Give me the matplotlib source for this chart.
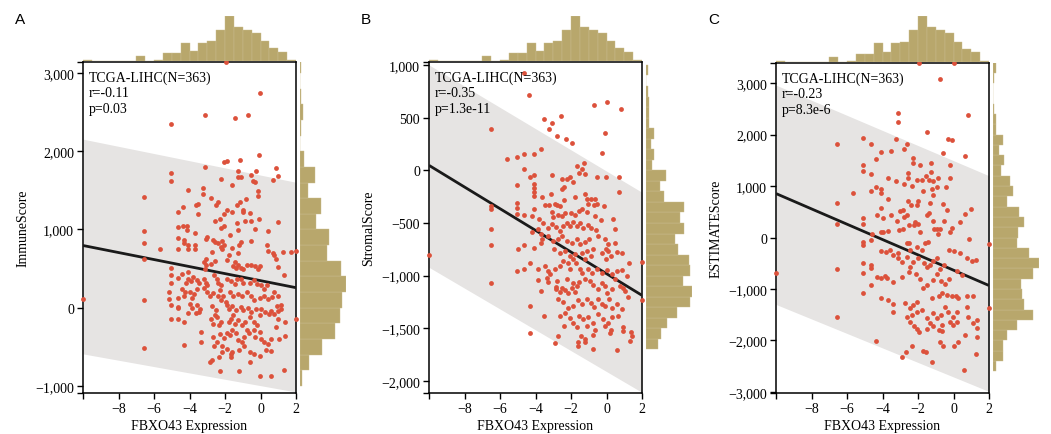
import numpy as np
import matplotlib
matplotlib.use("Agg")
import matplotlib.pyplot as plt
from matplotlib.ticker import FuncFormatter, FixedLocator

# ---- scatter data: (FBXO43 expression, score) ----
immune_pts = np.array([
    (-10.0, 112), (-6.59, 1419), (-6.59, 978), (-6.59, 829), (-6.59, 628), (-6.59, 103), (-6.59, -509),
    (-1.94, 3136), (-0.02, 2743), (-3.11, 2465), (-1.45, 2423), (-0.72, 2465), (-5.07, 2350),
    (-2.05, 1859), (-1.9, 1876), (-1.15, 1893), (-0.06, 1948), (-3.11, 1794), (-5.07, 1717), (-5.07, 1624),
    (-1.26, 1752), (-1.26, 1666), (-1.11, 1666), (-0.26, 1752), (0.87, 1790), (1.0, 1688),
    (-0.55, 1696), (-0.45, 1624), (-0.32, 1611), (0.68, 1632), (-2.24, 1641), (-1.6, 1568), (-3.22, 1534),
    (-4.09, 1504), (-0.13, 1491), (-0.13, 1427), (-3.22, 1448), (-2.79, 1406), (-0.79, 1384),
    (-1.15, 1346), (-1.3, 1312), (-2.4, 1354), (-2.53, 1312), (-3.66, 1312), (-3.51, 1324), (-4.36, 1282),
    (-1.87, 1247), (-1.58, 1226), (-1.0, 1247), (-1.0, 1218), (-4.66, 1222), (-3.51, 1200), (-2.06, 1200),
    (-0.58, 1205), (-2.28, 1140), (-0.09, 1128), (-2.58, 1106), (-1.34, 1085), (-0.51, 1106), (0.96, 1089),
    (-0.89, 1106), (-4.36, 1042), (-4.13, 1042), (-4.13, 999), (-4.66, 1034), (-2.06, 1042), (-2.24, 1021),
    (-1.24, 991), (-0.32, 1012), (-3.68, 961), (0.44, 982), (-1.72, 935), (-3.0, 905), (-3.09, 884),
    (-4.66, 888), (-4.32, 862), (-4.32, 833), (-2.7, 862), (-2.56, 841), (-2.4, 828), (-2.19, 850),
    (-2.06, 799), (-2.24, 777), (-2.15, 747), (-1.11, 841), (-1.19, 807), (-0.55, 850), (0.34, 807),
    (-4.09, 807), (-4.09, 756), (-3.7, 807), (-3.7, 756), (-4.66, 747), (-2.72, 713), (-1.62, 769),
    (-1.77, 670), (-1.26, 705), (0.44, 722), (0.68, 705), (0.77, 670), (0.87, 619), (1.25, 713),
    (1.72, 713), (2.0, 722), (-5.64, 747), (-3.06, 628), (-3.19, 585), (-3.06, 551), (-3.13, 499),
    (-2.58, 598), (-2.81, 555), (-1.87, 606), (-1.45, 585), (-1.53, 534), (-1.4, 508), (-1.26, 542),
    (-1.11, 508), (-1.0, 491), (-0.77, 551), (-0.55, 551), (-0.32, 534), (-0.02, 534), (-0.13, 491),
    (1.0, 521), (-5.07, 508), (-4.41, 436), (-4.66, 380), (-5.07, 414), (-5.07, 320), (-4.09, 457),
    (-4.09, 371), (-3.79, 393), (-3.9, 337), (-4.17, 320), (-3.6, 350), (-3.47, 320), (-3.19, 371),
    (-3.09, 320), (-3.0, 286), (-2.62, 414), (-2.47, 371), (-2.4, 320), (-2.24, 286), (-1.87, 371),
    (-1.68, 337), (-1.45, 307), (-1.34, 371), (-1.11, 371), (-0.96, 320), (-0.58, 320), (-0.36, 350),
    (-0.17, 303), (0.02, 286), (0.21, 243), (0.36, 286), (1.34, 423), (-5.17, 200), (-5.17, 115),
    (-5.07, 30), (-4.66, 123), (-4.66, 8), (-4.32, 149), (-4.23, 200), (-4.41, 243), (-3.98, 200),
    (-3.75, 179), (-3.85, 123), (-3.6, 243), (-3.19, 252), (-3.0, 200), (-2.85, 149), (-2.66, 192),
    (-2.28, 222), (-2.4, 149), (-2.09, 149), (-2.24, 93), (-1.96, 72), (-1.72, 200), (-1.53, 149),
    (-1.26, 179), (-1.02, 149), (-0.77, 200), (-0.55, 149), (-0.36, 93), (-0.02, 123), (0.21, 149),
    (0.4, 115), (0.62, 136), (0.77, 200), (0.96, 149), (1.15, 38), (0.93, 21), (-3.98, 51), (-3.85, -5),
    (-3.56, 30), (-3.41, -22), (-2.72, 21), (-2.53, -35), (-2.58, -90), (-1.9, 30), (-1.77, -22),
    (-1.58, 21), (-1.4, -35), (-1.53, -90), (-1.11, 8), (-0.96, -35), (-0.7, -5), (-0.55, -56),
    (-0.26, -22), (0.02, -22), (0.25, -56), (0.49, -78), (0.59, -48), (-5.07, -142), (-4.66, -5),
    (-4.66, -142), (-4.09, -65), (-3.66, -65), (-3.47, -56), (-4.32, -184), (-2.81, -142), (-2.66, -206),
    (-2.47, -120), (-2.34, -227), (-2.24, -184), (-1.77, -184), (-1.64, -142), (-1.45, -206),
    (-1.26, -163), (-1.07, -227), (-0.89, -184), (-0.58, -120), (-0.36, -184), (-0.21, -227),
    (-0.02, -90), (0.77, -78), (0.96, -48), (1.15, -14), (1.38, -184), (1.0, -150), (-3.38, -313),
    (-3.34, -441), (-4.32, -475), (-2.66, -377), (-2.47, -432), (-2.62, -492), (-2.28, -334),
    (-2.06, -390), (-1.9, -321), (-1.72, -355), (-1.58, -291), (-1.4, -321), (-1.26, -419),
    (-1.02, -441), (-0.92, -377), (-0.77, -291), (-0.64, -321), (-0.36, -279), (-0.32, -377),
    (-0.02, -313), (0.02, -398), (0.21, -441), (0.4, -462), (0.59, -398), (0.87, -249), (1.06, -398),
    (1.38, -364), (-2.15, -484), (-1.87, -527), (-1.58, -561), (-1.21, -535), (-0.92, -492),
    (-0.58, -561), (-0.36, -591), (-0.02, -621), (0.3, -535), (0.59, -548), (-2.85, -697), (-2.72, -668),
    (-2.34, -633), (-2.15, -569), (-1.64, -591), (-1.64, -633), (-0.58, -689), (-2.28, -804),
    (-1.21, -804), (-0.02, -877), (0.59, -877), (1.34, -792), (2.0, -150),
])

stromal_pts = np.array([
    (-10.0, -804), (-6.52, 389), (-6.52, -339), (-6.52, -364), (-6.52, -560), (-6.52, -712), (-6.52, -1067),
    (-4.67, 921), (-4.35, 712), (-3.5, 484), (-3.09, 446), (-3.22, 395), (-2.58, 516), (-2.77, 326),
    (-2.28, 301), (-1.93, 263), (-0.72, 617), (0.0, 652), (0.83, 579), (-0.08, 357), (-0.27, 168),
    (-5.63, 111), (-5.04, 123), (-4.63, 152), (-4.07, 152), (-3.69, 199), (-4.63, 16), (-5.04, -136),
    (-4.33, -67), (-4.07, -48), (-4.07, -133), (-4.07, -165), (-4.07, -206), (-4.07, -244), (-3.09, -48),
    (-1.68, 41), (-1.29, 66), (-1.55, -23), (-1.21, -38), (-1.4, 9), (-0.56, -60), (-0.01, -60),
    (0.68, -60), (0.68, -206), (-2.49, -79), (-2.25, -86), (-2.06, -60), (-1.87, -111), (-2.53, -174),
    (-2.4, -155), (-3.65, -253), (-3.13, -228), (-2.38, -282), (-2.81, -333), (-1.78, -253),
    (-1.21, -228), (-1.12, -276), (-0.88, -269), (-0.65, -276), (-1.06, -323), (-0.69, -333),
    (-0.56, -323), (-0.12, -339), (-5.04, -314), (-5.04, -355), (-5.04, -418), (-4.63, -428),
    (-4.22, -434), (-4.07, -371), (-3.47, -333), (-3.22, -333), (-2.9, -323), (-2.62, -339),
    (-3.09, -396), (-3.0, -440), (-2.75, -428), (-2.53, -434), (-2.34, -409), (-2.0, -409),
    (-1.78, -428), (-1.55, -387), (-1.36, -364), (-1.12, -396), (-0.65, -434), (-0.31, -472),
    (0.38, -466), (0.48, -554), (-3.79, -459), (-3.56, -504), (-3.32, -545), (-3.09, -513),
    (-2.87, -535), (-2.62, -576), (-2.43, -529), (-2.25, -504), (-2.06, -529), (-1.87, -491),
    (-1.68, -529), (-1.5, -497), (-1.31, -545), (-1.06, -523), (-0.88, -545), (-0.61, -567),
    (-3.84, -561), (-3.69, -608), (-3.65, -656), (-3.69, -687), (-4.22, -586), (-5.01, -744),
    (-4.63, -713), (-4.07, -735), (-3.28, -624), (-3.0, -672), (-2.72, -656), (-2.49, -624),
    (-2.25, -672), (-1.96, -687), (-1.68, -656), (-1.5, -703), (-1.21, -681), (-0.99, -656),
    (-0.46, -624), (-0.09, -656), (0.1, -703), (0.48, -687), (0.1, -766), (-0.05, -744),
    (-2.94, -751), (-2.62, -782), (-2.34, -766), (-2.06, -814), (-1.78, -798), (-1.4, -782),
    (-1.12, -766), (-0.88, -814), (-1.21, -846), (-0.74, -744), (-0.27, -789), (-0.03, -839),
    (0.25, -814), (0.57, -776), (0.85, -782), (1.28, -884), (2.02, -868), (-5.04, -960), (-4.63, -934),
    (-4.31, -884), (-3.84, -934), (-3.47, -909), (-3.32, -956), (-3.19, -988), (-2.9, -941),
    (-2.62, -909), (-2.43, -861), (-2.19, -884), (-2.06, -941), (-1.87, -846), (-1.74, -884),
    (-1.5, -941), (-1.36, -972), (-1.03, -934), (-0.8, -972), (-0.56, -941), (-0.27, -972),
    (0.01, -947), (0.29, -988), (0.57, -956), (0.85, -947), (1.13, -1004), (-3.84, -1042),
    (-3.37, -1020), (-3.28, -1061), (-3.69, -1146), (-2.81, -1051), (-2.87, -1105), (-2.87, -1130),
    (-2.62, -1156), (-2.49, -1115), (-2.34, -1137), (-2.15, -1168), (-1.96, -1115), (-1.78, -1156),
    (-2.25, -1036), (-1.87, -1067), (-1.68, -1099), (-1.55, -1061), (-1.21, -1036), (-0.93, -1051),
    (-0.74, -1092), (-0.46, -1124), (-0.27, -1067), (-0.09, -1099), (0.01, -1162), (0.29, -1130),
    (0.48, -1036), (0.76, -1099), (0.95, -1115), (1.04, -1146), (1.19, -1200), (2.02, -1232),
    (-4.31, -1289), (-3.5, -1384), (-2.9, -1643), (-4.33, -1548), (-2.72, -1219), (-2.43, -1251),
    (-2.15, -1305), (-1.87, -1289), (-1.63, -1232), (-1.36, -1273), (-1.12, -1226), (-0.88, -1264),
    (-0.69, -1295), (-0.46, -1226), (-0.27, -1273), (-0.09, -1289), (0.14, -1226), (0.33, -1305),
    (0.57, -1273), (0.85, -1314), (-2.62, -1384), (-2.34, -1358), (-2.06, -1400), (-1.87, -1447),
    (-1.55, -1384), (-1.31, -1415), (-1.03, -1390), (-0.74, -1453), (-0.46, -1368), (-0.18, -1409),
    (0.1, -1447), (0.29, -1390), (0.66, -1384), (-2.38, -1479), (-1.68, -1485), (-1.12, -1479),
    (-0.65, -1517), (-0.09, -1479), (0.25, -1517), (0.95, -1485), (-2.72, -1574), (-1.44, -1574),
    (-1.21, -1605), (-0.74, -1567), (0.2, -1542), (1.38, -1536), (1.42, -1574), (1.32, -1621),
    (-1.63, -1631), (-1.21, -1631), (-1.59, -1669), (-0.74, -1700), (0.57, -1707), (0.95, -1526),
])

estimate_pts = np.array([
    (-10.0, -680), (-6.58, 1812), (-6.58, 666), (-6.58, 272), (-6.58, -602), (-6.58, -1553),
    (-1.94, 3398), (0.0, 3398), (-0.76, 3088), (-3.11, 2428), (-3.11, 2246), (0.84, 2376), (-1.47, 2052),
    (-0.29, 1923), (-0.1, 1903), (-0.59, 1644), (0.67, 1586), (-5.08, 1942), (-4.67, 1813), (-5.08, 1418),
    (-5.08, 1289), (-4.67, 1243), (-3.24, 1923), (-2.77, 1729), (-2.6, 1813), (-3.52, 1683), (-4.08, 1664),
    (-4.37, 1522), (-2.26, 1547), (-2.3, 1450), (-1.89, 1418), (-1.29, 1450), (-1.29, 1276), (-0.85, 1159),
    (-0.19, 1418), (-0.22, 1165), (-2.54, 1256), (-2.54, 1159), (-3.71, 1159), (-3.24, 1107), (-2.79, 1043),
    (-2.36, 1004), (-2.07, 1114), (-1.79, 1114), (-1.55, 1198), (-1.36, 1114), (-1.14, 1094), (-0.91, 991),
    (-0.44, 984), (-1.74, 900), (-1.23, 939), (-1.17, 823), (-1.32, 680), (-4.37, 984), (-4.1, 939),
    (-4.1, 874), (-4.67, 900), (-5.64, 868), (-3.67, 758), (-3.01, 512), (-2.86, 531), (-2.54, 706),
    (-2.39, 628), (-1.98, 706), (-2.04, 628), (-0.61, 648), (-0.35, 531), (0.65, 454), (0.97, 551),
    (-4.1, 577), (-4.33, 434), (-3.99, 370), (-3.52, 434), (-3.2, 318), (-2.79, 402), (-2.64, 434),
    (-2.17, 305), (-2.22, 240), (-1.98, 272), (-1.51, 447), (-1.36, 467), (-1.17, 318), (-0.95, 175),
    (-0.85, 78), (-0.53, 318), (-0.1, 188), (-5.08, 370), (-5.08, 259), (-3.67, 123), (-3.95, 98),
    (-4.61, 59), (-4.1, 111), (-3.05, 143), (-2.86, 175), (-2.49, 240), (-1.89, 111), (-1.1, 162),
    (-0.76, 162), (-0.2, 98), (0.37, 292), (0.89, -19), (-5.08, -84), (-5.08, -148), (-4.67, -51),
    (-4.1, -265), (-3.8, -278), (-3.58, -245), (-3.39, -343), (-3.11, -291), (-2.6, -116), (-2.49, -97),
    (-2.45, -245), (-2.07, -181), (-1.79, -245), (-1.6, -97), (-1.41, -84), (-3.11, -407), (-2.92, -485),
    (-2.64, -375), (-2.45, -569), (-2.26, -485), (-1.98, -407), (-1.66, -504), (-1.47, -569),
    (-1.32, -524), (-1.14, -459), (-0.95, -407), (-0.76, -614), (-0.53, -537), (-0.23, -245),
    (0.03, -265), (0.37, -310), (0.74, -407), (1.02, -459), (1.27, -446), (-5.08, -504), (-4.67, -537),
    (-4.67, -601), (-5.08, -698), (-4.33, -763), (-4.1, -782), (-3.86, -743), (-3.76, -795),
    (-3.39, -873), (-4.67, -925), (-5.08, -1087), (-2.92, -763), (-2.49, -666), (-2.11, -718),
    (-1.89, -808), (-1.74, -990), (-1.47, -925), (-1.17, -828), (-0.91, -718), (-0.73, -847),
    (-0.48, -912), (-0.23, -808), (0.18, -653), (0.46, -731), (-1.23, -1171), (-0.83, -1132),
    (-0.67, -1087), (-0.35, -1119), (-0.1, -1132), (0.14, -1132), (0.27, -1171), (0.74, -1132),
    (1.12, -1132), (-4.1, -1171), (-3.67, -1216), (-3.39, -1300), (-3.43, -1443), (-2.73, -1281),
    (-2.45, -1378), (-2.26, -1313), (-2.07, -1248), (-2.64, -1540), (-2.36, -1508), (-2.07, -1443),
    (-1.79, -1410), (-1.51, -1559), (-1.14, -1475), (-0.91, -1572), (-0.73, -1508), (-0.48, -1346),
    (-0.29, -1456), (-0.05, -1540), (0.18, -1443), (0.78, -1346), (-2.45, -1637), (-2.22, -1715),
    (-2.07, -1780), (-1.92, -1831), (-1.32, -1669), (-1.14, -1721), (-0.83, -1799), (-0.67, -1702),
    (-0.2, -1650), (-0.01, -1702), (0.22, -1637), (0.84, -1540), (1.08, -1669), (1.34, -1605),
    (-1.51, -1780), (-0.67, -1818), (0.65, -1896), (1.3, -1754), (1.34, -1928), (-4.37, -2012),
    (-2.36, -2103), (-1.7, -2207), (-1.55, -2232), (-0.76, -2025), (-0.57, -2103), (0.0, -2103),
    (0.27, -2038), (-2.68, -2232), (-2.92, -2330), (-1.23, -2413), (1.27, -2271), (0.59, -2575),
    (1.98, -135), (1.98, -1365),
])

# ---- marginal histogram counts ----
expr_edges0, expr_step = -10.0, 0.5
expr_counts = [1, 0, 0, 0, 0, 0, 5, 0, 1, 9, 9, 22, 12, 22, 24, 38, 55, 42, 38, 34, 24, 15, 11, 1]

immune_edges0, immune_step = -1000, 200
immune_counts = [2, 9, 22, 35, 40, 42, 46, 41, 27, 29, 16, 21, 8, 15, 4, 0, 1, 3, 1, 0, 1]

stromal_edges0, stromal_step = -1700, 100
stromal_counts = [8, 10, 14, 20, 29, 30, 24, 29, 28, 21, 19, 25, 22, 25, 12, 9, 13, 4, 5, 3, 5, 2,
                  2, 2, 1, 0, 1]

estimate_edges0, estimate_step = -2600, 200
estimate_counts = [2, 7, 7, 10, 17, 29, 22, 21, 20, 29, 33, 26, 17, 18, 22, 19, 10, 14, 12, 6, 8, 4,
                   7, 2, 2, 1, 0, 0, 1, 2]

# ---- regression line and prediction band at x = -10 and x = 2 ----
fit_x = [-10, 2]
immune_fit, immune_hi, immune_lo = [795, 256], [2154, 1603], [-590, -1077]
stromal_fit, stromal_hi, stromal_lo = [47, -1187], [1000, -209], [-921, -2108]
estimate_fit, estimate_hi, estimate_lo = [854, -932], [2960, 1200], [-1300, -2990]

panels = [
    dict(tag="A", ylabel="ImmuneScore", pts=immune_pts, fit=immune_fit, hi=immune_hi, lo=immune_lo,
         hist=immune_counts, h0=immune_edges0, hstep=immune_step, ylim=(-1090, 3140),
         yticks=[-1000, 0, 1000, 2000, 3000], r="-0.11", p="0.03",
         box=(83, 63, 296, 394), right=299.5),
    dict(tag="B", ylabel="StromalScore", pts=stromal_pts, fit=stromal_fit, hi=stromal_hi, lo=stromal_lo,
         hist=stromal_counts, h0=stromal_edges0, hstep=stromal_step, ylim=(-2114, 1028),
         yticks=[-2000, -1500, -1000, -500, 0, 500, 1000], r="-0.35", p="1.3e-11",
         box=(429, 63, 642, 394), right=646),
    dict(tag="C", ylabel="ESTIMATEScore", pts=estimate_pts, fit=estimate_fit, hi=estimate_hi, lo=estimate_lo,
         hist=estimate_counts, h0=estimate_edges0, hstep=estimate_step, ylim=(-3020, 3390),
         yticks=[-3000, -2000, -1000, 0, 1000, 2000, 3000], r="-0.23", p="8.3e-6",
         box=(776, 64, 989, 394), right=993),
]

W, H = 1051, 435
HIST_COLOR = "#b8a76c"
DOT_COLOR = "#dc513b"
BAND_COLOR = "#e6e4e3"
serif = ["Liberation Serif", "DejaVu Serif"]


def frac(l, t, r, b):
    return [l / W, 1 - b / H, (r - l) / W, (b - t) / H]


def fmt(v, pos=None):
    return f"{v:,.0f}".replace("-", "\u2212")


fig = plt.figure(figsize=(W / 100, H / 100), dpi=100)

for pn in panels:
    l, t, r, b = pn["box"]
    ax = fig.add_axes(frac(l, t, r, b))
    ax.set_xlim(-10, 2)
    ax.set_ylim(*pn["ylim"])

    ax.fill_between(fit_x, pn["lo"], pn["hi"], color=BAND_COLOR, lw=0, zorder=1)
    ax.plot(fit_x, pn["fit"], color="#1a1a1a", lw=2.0, zorder=3, solid_capstyle="butt")
    ax.scatter(pn["pts"][:, 0], pn["pts"][:, 1], s=12, color=DOT_COLOR, lw=0, zorder=4, clip_on=False)

    for s in ax.spines.values():
        s.set_linewidth(1.1)
        s.set_color("black")
    ax.set_xticks([-8, -6, -4, -2, 0, 2])
    ax.xaxis.set_minor_locator(FixedLocator([-10]))
    ax.set_yticks(pn["yticks"])
    ax.yaxis.set_minor_locator(FixedLocator(list(pn["ylim"])))
    ax.xaxis.set_major_formatter(FuncFormatter(fmt))
    ax.yaxis.set_major_formatter(FuncFormatter(fmt))
    ax.tick_params(which="both", direction="out", length=4.5, width=1.0, color="black")
    ax.tick_params(labelsize=10, pad=2)
    for lab in ax.get_xticklabels() + ax.get_yticklabels():
        lab.set_family(serif)

    ax.set_xlabel("FBXO43 Expression", family=serif, fontsize=10, labelpad=3)
    ax.set_ylabel(pn["ylabel"], family=serif, fontsize=10, labelpad=4)

    ax.text(0.025, 0.975, f"TCGA-LIHC(N=363)\nr={pn['r']}\np={pn['p']}", transform=ax.transAxes,
            ha="left", va="top", family=serif, fontsize=10, linespacing=1.25, zorder=5)

    fig.text((l - 68) / W, 1 - 20 / H, pn["tag"], ha="left", va="center",
             family=["Liberation Sans", "DejaVu Sans"], fontsize=11)

    # top marginal histogram of expression
    axt = fig.add_axes(frac(l, 17, r, t - 1.5))
    axt.bar(expr_edges0 + expr_step * np.arange(len(expr_counts)), expr_counts, width=expr_step,
            align="edge", color=HIST_COLOR, edgecolor="#cbbd90", lw=0.3)
    axt.set_xlim(-10, 2)
    axt.set_ylim(0, max(expr_counts))
    axt.axis("off")

    # right marginal histogram of score
    axr = fig.add_axes(frac(pn["right"], t, pn["right"] + 46, b))
    hc = pn["hist"]
    axr.barh(pn["h0"] + pn["hstep"] * np.arange(len(hc)), hc, height=pn["hstep"], align="edge",
             color=HIST_COLOR, edgecolor="#cbbd90", lw=0.3)
    axr.set_ylim(*pn["ylim"])
    axr.set_xlim(0, max(hc))
    axr.axis("off")

fig.savefig("out.png", dpi=100)
